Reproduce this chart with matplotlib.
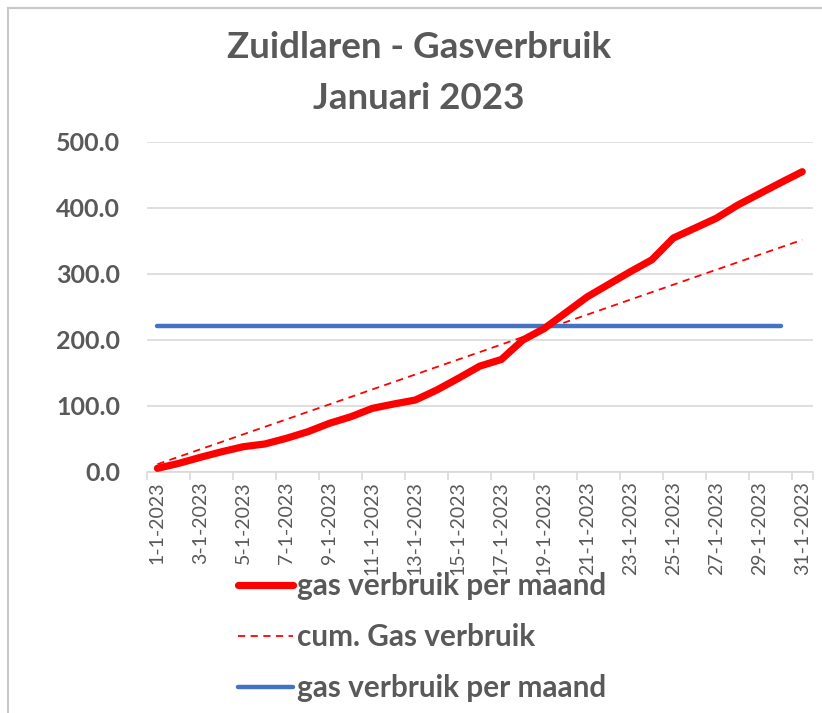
import matplotlib
matplotlib.use("Agg")
import matplotlib.pyplot as plt
from matplotlib.lines import Line2D

plt.rcParams['font.family'] = ['Lato', 'DejaVu Sans']

dates = [f"{d}-1-2023" for d in range(1, 32)]
gas_daily_cum = [5.1, 12.7, 21.8, 30.3, 37.9, 42.0, 50.6, 60.6, 73.3, 83.3,
                 96.0, 102.6, 108.6, 123.8, 141.5, 160.0, 170.0, 199.5, 217.0, 241.0,
                 265.0, 284.0, 303.0, 321.0, 354.0, 369.0, 384.0, 404.0, 421.0, 438.0,
                 454.5]
cum_plan = [11.3, 22.7, 34.0, 45.3, 56.7, 68.0, 79.3, 90.7, 102.0, 113.3,
            124.7, 136.0, 147.3, 158.7, 170.0, 181.3, 192.7, 204.0, 215.3, 226.7,
            238.0, 249.3, 260.7, 272.0, 283.3, 294.7, 306.0, 317.3, 328.7, 340.0,
            351.3]
month_avg = [221.0] * 30

labels = ["gas verbruik per maand", "cum. Gas verbruik", "gas verbruik per maand"]
title = "Zuidlaren - Gasverbruik\nJanuari 2023"
yticks = [0, 100, 200, 300, 400, 500]

grey = "#595959"
W, H = 822, 713
fig = plt.figure(figsize=(W / 100, H / 100), dpi=100)

# axes placement (pixels)
left, right, top, bottom = 146.7, 813, 141.7, 471.7
ax = fig.add_axes([left / W, 1 - bottom / H, (right - left) / W, (bottom - top) / H])

x = list(range(len(dates)))
ax.plot(x, gas_daily_cum, color="#ff0000", lw=5.2, solid_capstyle="round",
        solid_joinstyle="round", zorder=4)
ax.plot(x, cum_plan, color="#ff0000", lw=1.3, ls=(0, (4, 3)), zorder=3)
ax.plot(x[:len(month_avg)], month_avg, color="#4472c4", lw=3.2,
        solid_capstyle="round", zorder=3)

ax.set_xlim(-0.5, len(dates) - 0.5)
ax.set_ylim(0, 500)
ax.set_yticks(yticks)
ax.set_yticklabels([f"{v:.1f}" for v in yticks], fontsize=18, fontweight="bold",
                   color=grey)
ax.tick_params(axis="y", length=0, pad=19)
ax.grid(axis="y", color="#d9d9d9", lw=1.2)
ax.set_axisbelow(True)
for s in ["top", "right", "left"]:
    ax.spines[s].set_visible(False)
ax.spines["bottom"].set_color("#d9d9d9")
ax.spines["bottom"].set_linewidth(1.2)

# major ticks between categories, every 2
ax.set_xticks([i - 0.5 for i in range(0, len(dates) + 1, 2)] + [len(dates) - 0.5])
ax.set_xticklabels([])
ax.tick_params(axis="x", which="major", length=6, color="#d9d9d9", width=1.2)
ax.set_xticks(x[::2], minor=True)
ax.set_xticklabels(dates[::2], minor=True, rotation=90, fontsize=14, color=grey)
ax.tick_params(axis="x", which="minor", length=0, pad=7)

fig.suptitle(title, x=0.51, y=1 - 31 / H, fontsize=26.5, fontweight="bold",
             color=grey, linespacing=1.66, va="top")

handles = [Line2D([0], [0], color="#ff0000", lw=5.2, solid_capstyle="round"),
           Line2D([0], [0], color="#ff0000", lw=1.3, ls=(0, (4, 3))),
           Line2D([0], [0], color="#4472c4", lw=3.2, solid_capstyle="round")]
leg = fig.legend(handles, labels, loc="upper left",
                 bbox_to_anchor=(238 / W, 1 - 572 / H), frameon=False,
                 prop={"size": 21.4, "weight": "bold"}, handlelength=1.85,
                 handletextpad=0.15, labelspacing=0.78, borderpad=0, borderaxespad=0)
for t in leg.get_texts():
    t.set_color(grey)

# chart border (top and left visible)
fig.add_artist(Line2D([8 / W, 1], [1 - 8 / H, 1 - 8 / H], color="#c8c8c8", lw=1.5,
                      transform=fig.transFigure))
fig.add_artist(Line2D([8 / W, 8 / W], [0, 1 - 8 / H], color="#c8c8c8", lw=1.5,
                      transform=fig.transFigure))

fig.savefig("out.png", dpi=100)
